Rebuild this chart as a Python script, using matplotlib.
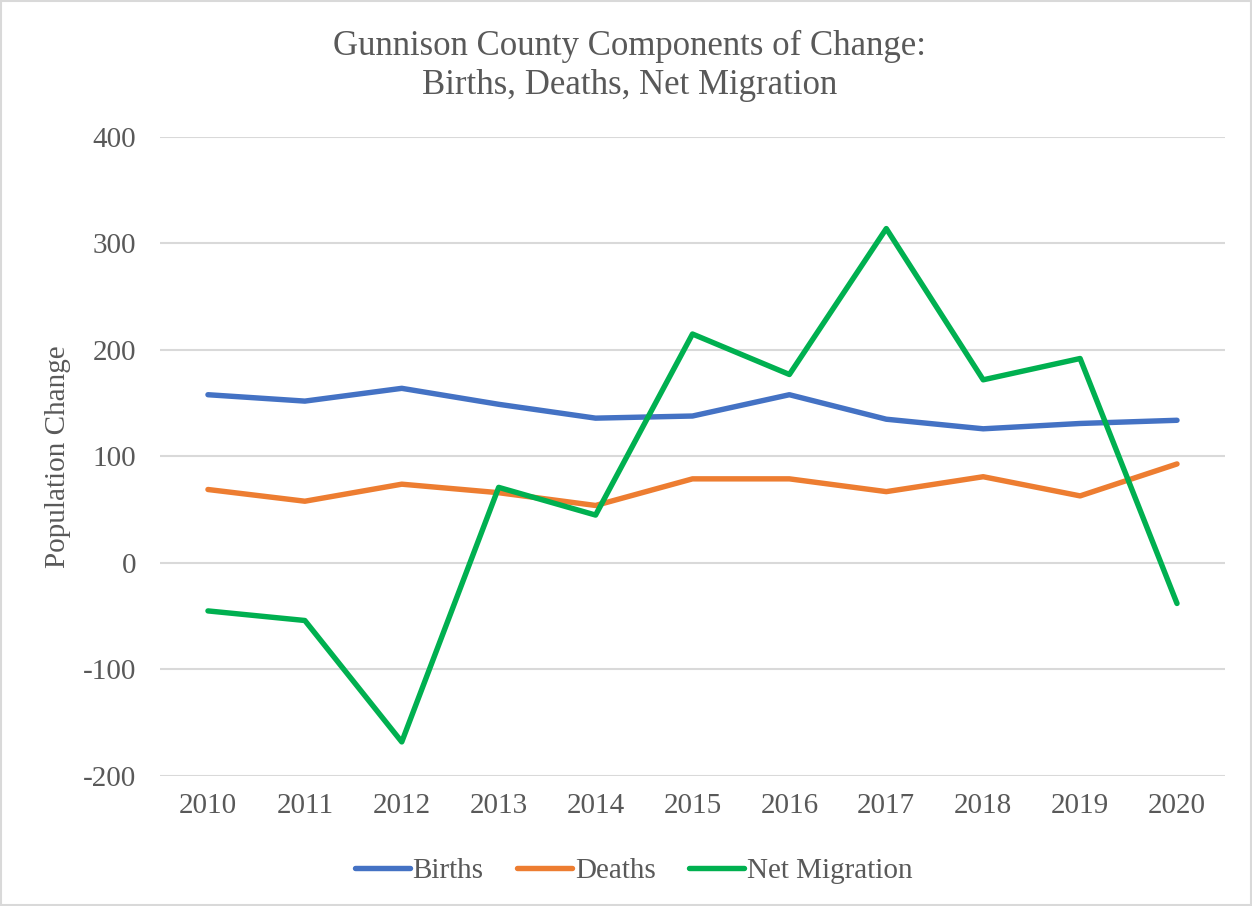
import matplotlib
matplotlib.use("Agg")
import matplotlib.pyplot as plt
from matplotlib.patches import Rectangle

plt.rcParams['font.family'] = ['Liberation Serif', 'DejaVu Serif']
plt.rcParams['axes.unicode_minus'] = False

# 数据
years = ['2010', '2011', '2012', '2013', '2014', '2015', '2016', '2017', '2018', '2019', '2020']
births = [158, 152, 164, 149, 136, 138, 158, 135, 126, 131, 134]
deaths = [69, 58, 74, 66, 54, 79, 79, 67, 81, 63, 93]
net_migration = [-45, -54, -168, 71, 45, 215, 177, 314, 172, 192, -38]

text_color = '#595959'
grid_color = '#D9D9D9'

fig = plt.figure(figsize=(12.52, 9.06), dpi=100)
ax = fig.add_axes([0.1274, 0.1435, 0.8514, 0.7053])

x = list(range(len(years)))
ax.plot(x, births, color='#4472C4', lw=3.9, label='Births', solid_capstyle='round', solid_joinstyle='round')
ax.plot(x, deaths, color='#ED7D31', lw=3.9, label='Deaths', solid_capstyle='round', solid_joinstyle='round')
ax.plot(x, net_migration, color='#00B050', lw=3.9, label='Net Migration', solid_capstyle='round', solid_joinstyle='round')

ax.set_xlim(-0.5, len(years) - 0.5)
ax.set_ylim(-200, 400)
ax.set_yticks(range(-200, 401, 100))
ax.set_xticks(x)
ax.set_xticklabels(years)
ax.grid(axis='y', color=grid_color, lw=1.5)
ax.set_axisbelow(True)
for s in ['top', 'right', 'left', 'bottom']:
    ax.spines[s].set_visible(False)
ax.tick_params(axis='both', length=0, labelsize=21, colors=text_color)
ax.tick_params(axis='y', pad=17)
ax.tick_params(axis='x', pad=12)

ax.set_ylabel('Population Change', fontsize=21, color=text_color, labelpad=8)

fig.text(0.503, 0.927, 'Gunnison County Components of Change:\nBirths, Deaths, Net Migration',
         ha='center', va='center', fontsize=25, color=text_color, linespacing=1.25)

leg = ax.legend(loc='center', bbox_to_anchor=(0.506, 0.039), bbox_transform=fig.transFigure,
                ncol=3, frameon=False, fontsize=21, handlelength=1.9, handletextpad=0.08,
                columnspacing=1.15)
for t in leg.get_texts():
    t.set_color(text_color)

fig.patches.append(Rectangle((0.001, 0.001), 0.998, 0.998, transform=fig.transFigure,
                             fill=False, edgecolor='#D9D9D9', lw=1.5))

fig.savefig('out.png', dpi=100)
